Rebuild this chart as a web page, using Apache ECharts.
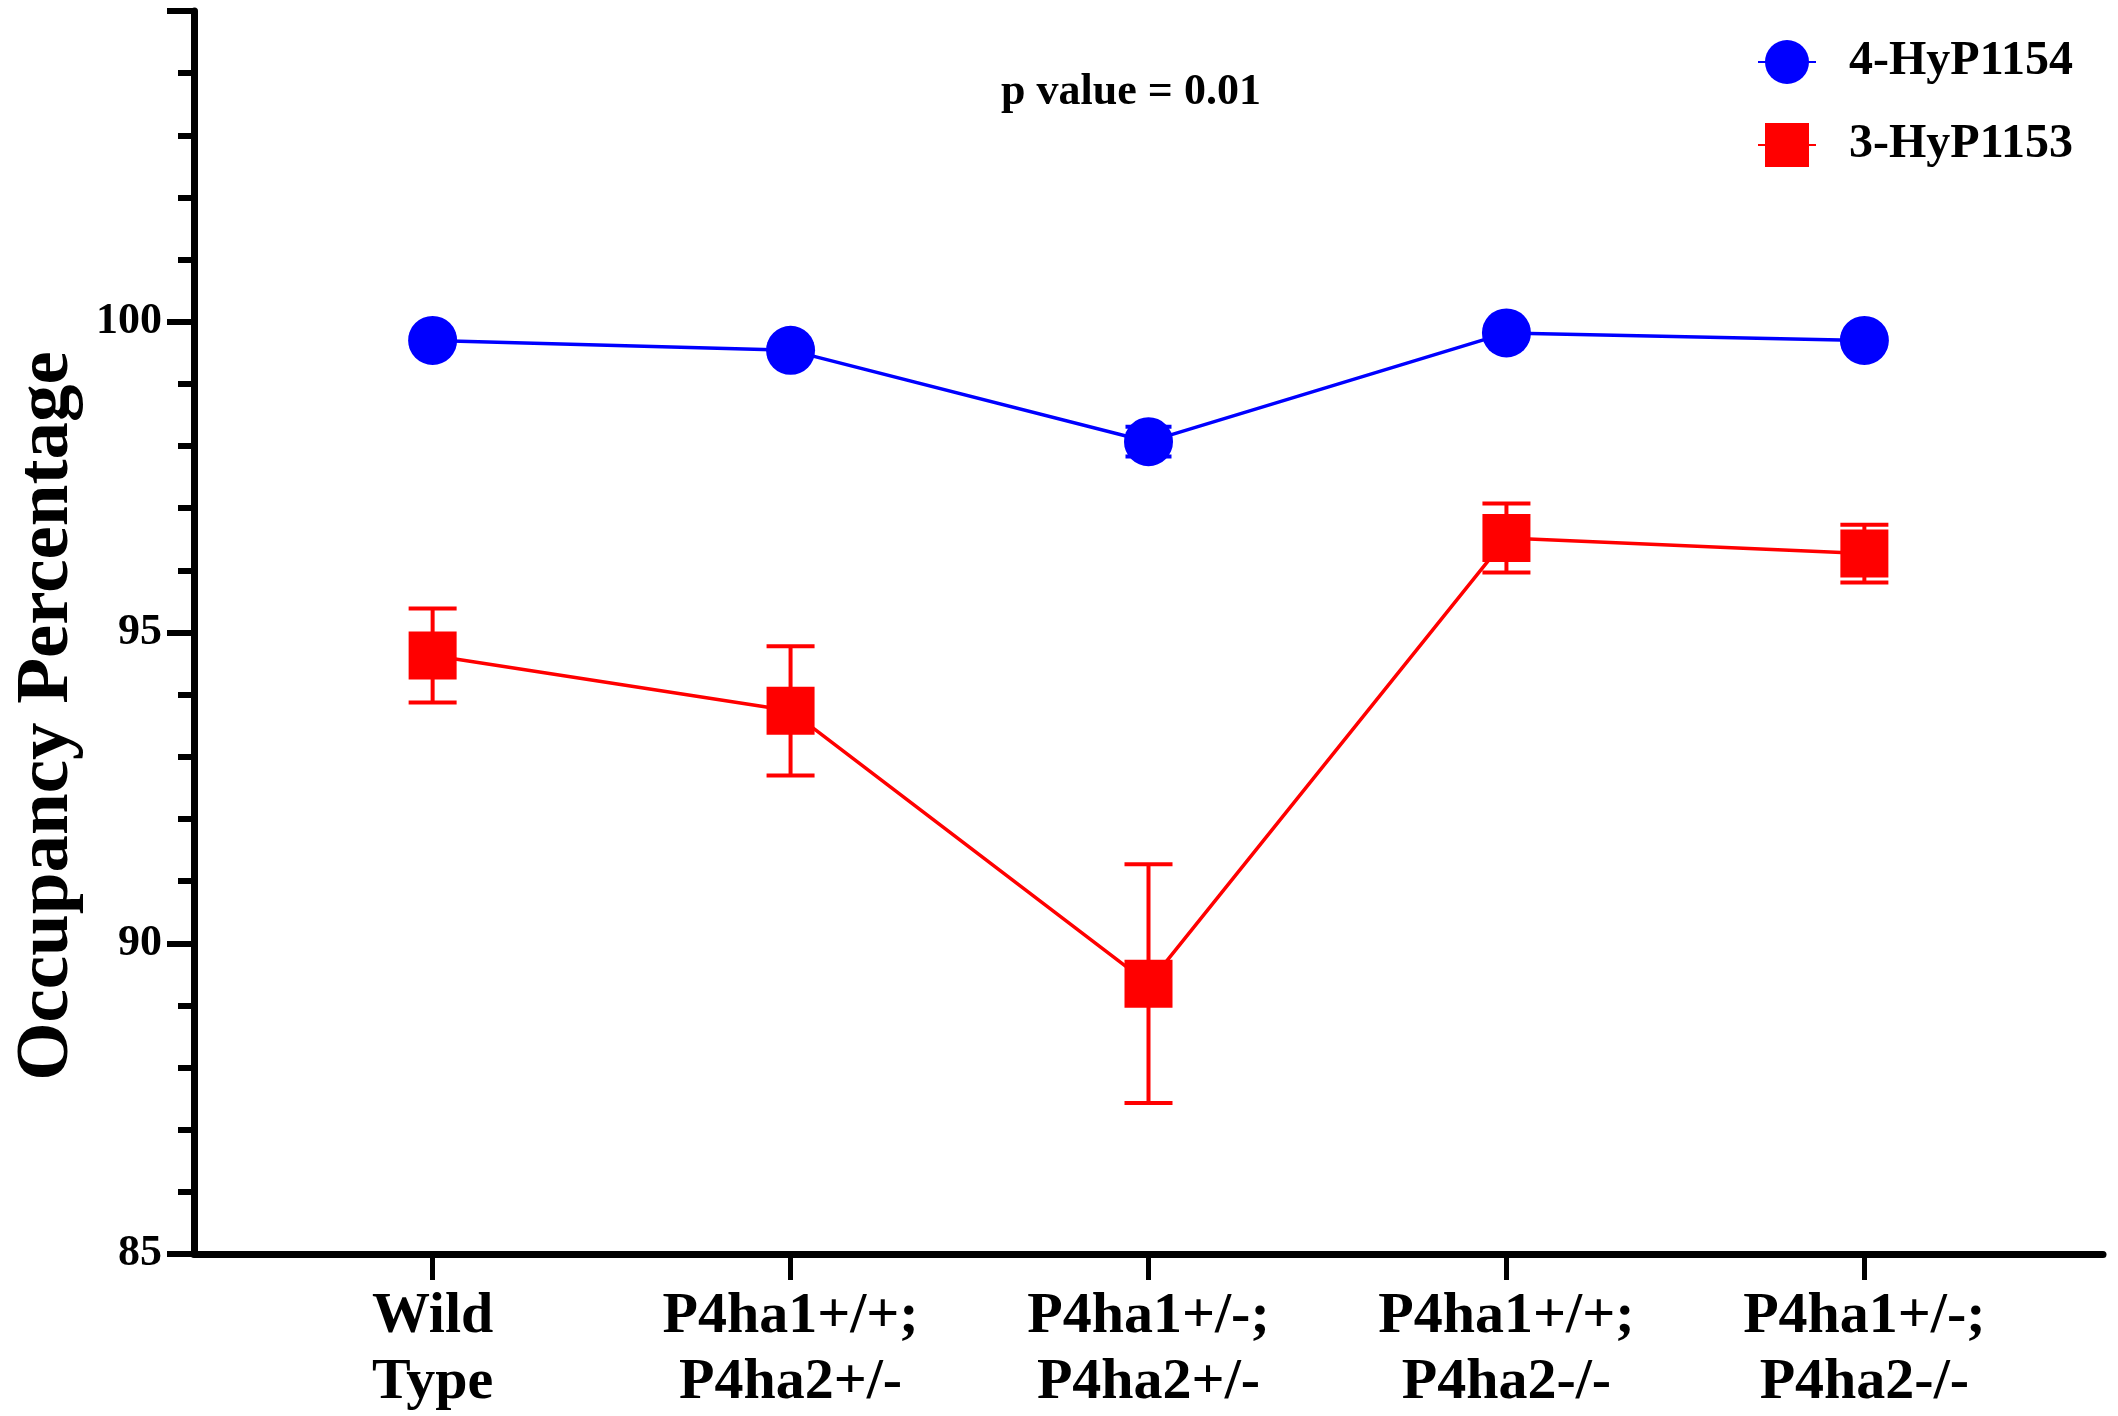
<!DOCTYPE html>
<html>
<head>
<meta charset="utf-8">
<script src="https://cdn.jsdelivr.net/npm/echarts@6/dist/echarts.min.js"></script>
<style>
  html, body { margin: 0; padding: 0; background: #ffffff; }
  #chart { width: 2118px; height: 1416px; }
</style>
</head>
<body>
<div id="chart"></div>
<script>
// Genotype groups along the x axis
const categories = ['Wild\nType', 'P4ha1+/+;\nP4ha2+/-', 'P4ha1+/-;\nP4ha2+/-', 'P4ha1+/+;\nP4ha2-/-', 'P4ha1+/-;\nP4ha2-/-'];

// Mean occupancy (%) and error (±) per group
const hyp4Name = '4-HyP1154';
const hyp4Mean = [99.70, 99.54, 98.07, 99.82, 99.70];
const hyp4Err  = [0.10, 0.10, 0.24, 0.10, 0.10];

const hyp3Name = '3-HyP1153';
const hyp3Mean = [94.63, 93.74, 89.35, 96.52, 96.27];
const hyp3Err  = [0.755, 1.04, 1.92, 0.555, 0.465];

const yTickLabels = [85, 90, 95, 100];
const annotation = 'p value = 0.01';

const FONT = "'Liberation Serif', 'Times New Roman', serif";
const BLUE = '#0000ff';
const RED = '#ff0000';

const points = arr => arr.map((v, i) => [i, v]);
const errRows = (mean, err) => mean.map((v, i) => [i, v - err[i], v + err[i]]);

// Whisker with caps, drawn through the axis scales
function errorBar(color, capWidth) {
  return function (params, api) {
    const x = api.value(0);
    const lo = api.coord([x, api.value(1)]);
    const hi = api.coord([x, api.value(2)]);
    const half = capWidth / 2;
    const style = { stroke: color, lineWidth: 4 };
    return {
      type: 'group',
      children: [
        { type: 'line', shape: { x1: lo[0], y1: lo[1], x2: hi[0], y2: hi[1] }, style },
        { type: 'line', shape: { x1: hi[0] - half, y1: hi[1], x2: hi[0] + half, y2: hi[1] }, style },
        { type: 'line', shape: { x1: lo[0] - half, y1: lo[1], x2: lo[0] + half, y2: lo[1] }, style }
      ]
    };
  };
}

const chart = echarts.init(document.getElementById('chart'), null, { renderer: 'canvas' });

chart.setOption({
  backgroundColor: '#ffffff',
  animation: false,
  grid: { left: 194, right: 15, top: 11, bottom: 153, containLabel: false },
  legend: {
    orient: 'vertical',
    left: 1757,
    top: 38,
    padding: 0,
    itemWidth: 58,
    itemHeight: 55,
    itemGap: 35,
    textStyle: {
      fontFamily: FONT, fontWeight: 'bold', fontSize: 48, color: '#000',
      padding: [0, 0, 0, 28]
    },
    data: [hyp4Name, hyp3Name]
  },
  xAxis: {
    type: 'value',
    min: -2 / 3,
    max: 14 / 3,
    splitLine: { show: false },
    axisLine: { onZero: false, lineStyle: { color: '#000', width: 7 } },
    axisTick: {
      customValues: categories.map((c, i) => i),
      length: 26,
      lineStyle: { color: '#000', width: 5 }
    },
    axisLabel: {
      customValues: categories.map((c, i) => i),
      formatter: v => categories[Math.round(v)],
      margin: 30,
      fontFamily: FONT,
      fontWeight: 'bold',
      fontSize: 58,
      lineHeight: 66,
      color: '#000'
    }
  },
  yAxis: {
    type: 'value',
    min: 85,
    max: 105,
    interval: 5,
    splitLine: { show: false },
    axisLine: { show: true, onZero: false, lineStyle: { color: '#000', width: 7 } },
    axisTick: { show: true, length: 27, lineStyle: { color: '#000', width: 6 } },
    minorTick: { show: true, splitNumber: 5, length: 16, lineStyle: { color: '#000', width: 6 } },
    minorSplitLine: { show: false },
    axisLabel: {
      margin: 32,
      formatter: v => (yTickLabels.indexOf(v) >= 0 ? String(v) : ''),
      fontFamily: FONT,
      fontWeight: 'bold',
      fontSize: 44,
      color: '#000'
    }
  },
  graphic: [
    {
      type: 'text',
      x: 48,
      y: 716,
      rotation: Math.PI / 2,
      style: {
        text: 'Occupancy Percentage',
        fontFamily: FONT,
        fontWeight: 'bold',
        fontSize: 75,
        fill: '#000',
        textAlign: 'center',
        textVerticalAlign: 'middle'
      }
    },
    {
      type: 'text',
      x: 1131,
      y: 93,
      style: {
        text: annotation,
        fontFamily: FONT,
        fontWeight: 'bold',
        fontSize: 44,
        fill: '#000',
        textAlign: 'center',
        textVerticalAlign: 'middle'
      }
    }
  ],
  series: [
    {
      name: hyp4Name + ' error',
      type: 'custom',
      renderItem: errorBar(BLUE, 46),
      data: errRows(hyp4Mean, hyp4Err),
      encode: { x: 0, y: [1, 2] },
      z: 1,
      silent: true
    },
    {
      name: hyp3Name + ' error',
      type: 'custom',
      renderItem: errorBar(RED, 48),
      data: errRows(hyp3Mean, hyp3Err),
      encode: { x: 0, y: [1, 2] },
      z: 1,
      silent: true
    },
    {
      name: hyp4Name,
      type: 'line',
      data: points(hyp4Mean),
      symbol: 'circle',
      symbolSize: 49,
      itemStyle: { color: BLUE },
      lineStyle: { color: BLUE, width: 3.5 },
      z: 3
    },
    {
      name: hyp3Name,
      type: 'line',
      data: points(hyp3Mean),
      symbol: 'rect',
      symbolSize: 48,
      itemStyle: { color: RED },
      lineStyle: { color: RED, width: 3.5 },
      z: 2
    }
  ]
});
</script>
</body>
</html>
